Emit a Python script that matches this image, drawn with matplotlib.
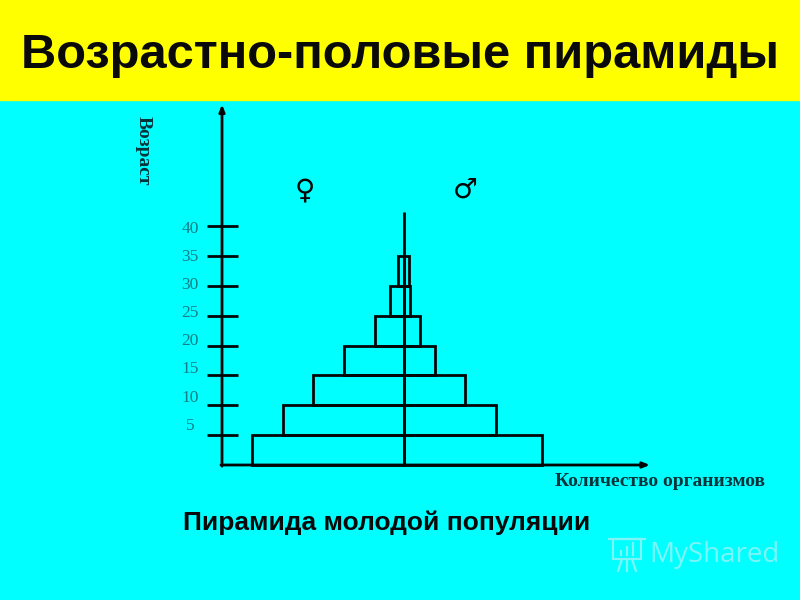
"""Age-sex pyramid of a young population."""

import matplotlib

matplotlib.use("Agg")
import matplotlib.pyplot as plt
from matplotlib.lines import Line2D
from matplotlib.patches import Rectangle

TITLE = "Возрастно-половые пирамиды"
SUBTITLE = "Пирамида молодой популяции"
Y_LABEL = "Возраст"
X_LABEL = "Количество организмов"
WATERMARK = "MyShared"

age_from = [0, 5, 10, 15, 20, 25, 30]
females = [152, 121, 91, 60, 29, 14, 6]
males = [138, 92, 61, 31, 16, 6, 5]
age_ticks = [5, 10, 15, 20, 25, 30, 35, 40]
age_labels = ["5", "10", "15", "20", "25", "30", "35", "40"]

CLASS_WIDTH = 5
PX_PER_YEAR = 5.97
LINE = 2.0
INK = "#050505"
PALE = "#7DF5F7"


def fig_xy(px, py):
    return px / 800, 1 - py / 600


fig = plt.figure(figsize=(8, 6), dpi=100, facecolor="#00FFFF")
fig.add_artist(Rectangle((0, 5 / 6), 1, 1 / 6, transform=fig.transFigure, color="#FFFF00", zorder=0))
fig.text(*fig_xy(400, 56), TITLE, ha="center", va="center", family="Liberation Sans", weight="bold",
         fontsize=35.2, color="#0a0a0a")

# Axes span the whole figure: x is organisms (1 unit = 1 px), y is age in years.
ax = fig.add_axes([0, 0, 1, 1])
ax.set_xlim(-404, 396)
ax.set_ylim(-135 / PX_PER_YEAR, 465 / PX_PER_YEAR)
ax.axis("off")

heights = [CLASS_WIDTH] * len(age_from)
bar_style = dict(align="edge", fill=False, edgecolor=INK, linewidth=LINE)
ax.barh(age_from, [-v for v in females], height=heights, **bar_style)
ax.barh(age_from, males, height=heights, **bar_style)

# Centre line between the sexes
ax.plot([0, 0], [0, 42.4], color=INK, lw=LINE, solid_capstyle="butt")

# Axes with arrow heads
ax_x = -182
arrow = dict(arrowstyle="-|>,head_length=0.4,head_width=0.16", color=INK, lw=LINE, shrinkA=0, shrinkB=0)
ax.annotate("", xy=(ax_x, 60.4), xytext=(ax_x, -0.2), arrowprops=arrow)
ax.annotate("", xy=(246, 0), xytext=(ax_x - 1, 0), arrowprops=arrow)
for age, label in zip(age_ticks, age_labels):
    ax.plot([ax_x - 15, ax_x + 16], [age, age], color=INK, lw=LINE, solid_capstyle="butt")
    # the labels drift upward relative to the ticks in the original slide
    ax.text(-214, age + 1.6 - (age - 5) * 0.06, label, ha="center", va="center",
            family="Liberation Serif", fontsize=12.5, color="#157d86")

fig.text(*fig_xy(143, 151), Y_LABEL, rotation=-90, ha="center", va="center",
         family="Liberation Serif", weight="bold", fontsize=14, color="#06343a")
fig.text(*fig_xy(660, 481), X_LABEL, ha="center", va="center",
         family="Liberation Serif", weight="bold", fontsize=14, color="#06343a")
fig.text(*fig_xy(387, 523), SUBTITLE, ha="center", va="center",
         family="Liberation Sans", weight="bold", fontsize=19, color="#0a0a0a")

fig.text(*fig_xy(305, 190), "♀", ha="center", va="center", family="DejaVu Sans", weight="bold",
         fontsize=20, color=INK)
fig.text(*fig_xy(465, 190), "♂", ha="center", va="center", family="DejaVu Sans", weight="bold",
         fontsize=20, color=INK)

# Watermark: presentation-board icon and name
fig.text(*fig_xy(714, 555), WATERMARK, ha="center", va="center", family="Open Sans",
         fontsize=20, color=PALE)
fig.add_artist(Rectangle(fig_xy(613, 559), 28 / 800, 20 / 600, transform=fig.transFigure,
                         fill=False, edgecolor=PALE, linewidth=1.6))
for x0, y0, x1, y1 in [(609, 539, 645, 539), (622, 559, 618, 571), (627, 559, 627, 571), (632, 559, 636, 571),
                       (621, 555, 621, 551), (627, 555, 627, 547), (633, 555, 633, 543)]:
    (px0, py0), (px1, py1) = fig_xy(x0, y0), fig_xy(x1, y1)
    fig.add_artist(Line2D([px0, px1], [py0, py1], transform=fig.transFigure, color=PALE, lw=1.6))

fig.savefig("out.png", dpi=100, facecolor=fig.get_facecolor())
plt.close(fig)
